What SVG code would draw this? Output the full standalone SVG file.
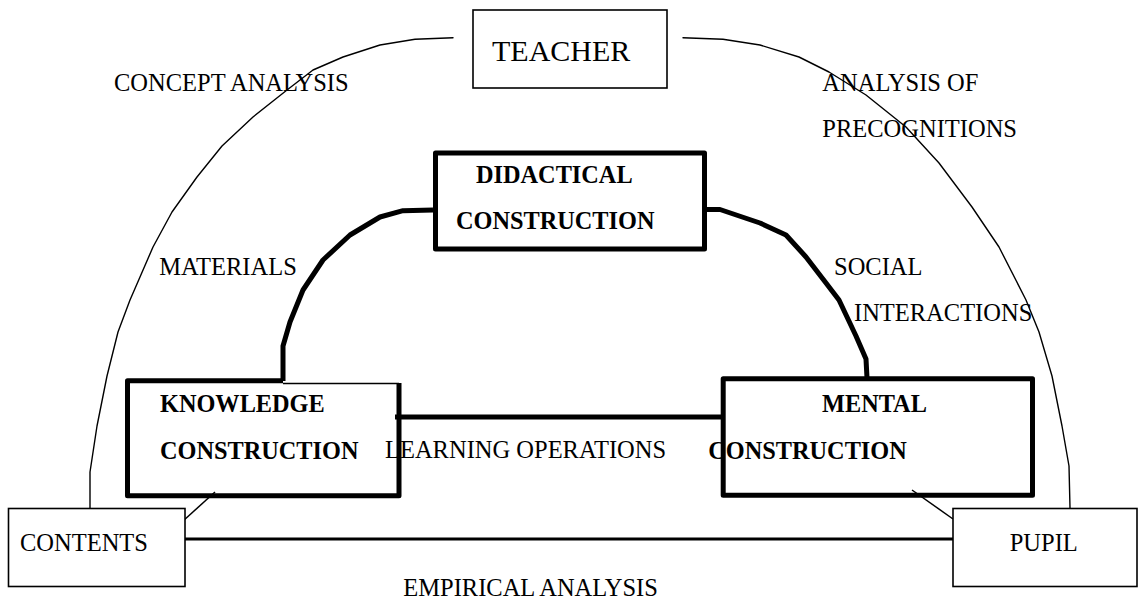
<svg xmlns="http://www.w3.org/2000/svg" width="1139" height="599" viewBox="0 0 1139 599">
<style>
text{font-family:"Liberation Serif","Times New Roman",serif;fill:#000}
.r{font-size:24.5px}
.b{font-size:24.3px;font-weight:bold}
.thin{fill:none;stroke:#000;stroke-width:1.5}
.box{fill:#fff;stroke:#000;stroke-width:1.6}
.tbox{fill:#fff;stroke:#000;stroke-width:5;stroke-linejoin:round}
.arc{fill:none;stroke:#000;stroke-width:1.4;stroke-linejoin:round;stroke-linecap:round}
.thick{fill:none;stroke:#000;stroke-width:5;stroke-linejoin:round}
</style>
<rect width="1139" height="599" fill="#fff"/>
<g id="connectors">
<polyline class="arc" points="453,37.7 415,39.3 380,45 343,57 313,70 287,90 253,117 222,146 197,177 172,212 153,247 140,277 130,300 118,332 107,376 97,426 90,472 90,508"/>
<polyline class="arc" points="683,37.7 723,39.3 760,45 799,57 829,72 866,95 906,127 939,163 972,207 999,247 1026,300 1039,332 1052,376 1062,426 1069,466 1070,508"/>
<polyline class="thick" points="433,210 403,210.7 380,217 350,235 323,260 303,290 290,322 283,346 283,381"/>
<polyline class="thick" points="707,209.5 720,209.5 760,223 786,235 806,257 826,283 839,300 856,336 866,359 867,378"/>
<line class="thick" x1="395" y1="417" x2="722" y2="417" stroke-width="5.5"/>
<line x1="185" y1="539" x2="953" y2="539" stroke="#000" stroke-width="3"/>
<line class="thin" x1="215" y1="492" x2="183" y2="521" stroke-width="1.2"/>
<line class="thin" x1="912" y1="490" x2="953" y2="519" stroke-width="1.2"/>
</g>
<g id="teacher">
<rect class="box" x="473" y="10" width="194" height="78"/>
<text x="492" y="61" style="font-size:30px">TEACHER</text>
</g>
<g id="didactical">
<rect class="tbox" x="435.5" y="153" width="269" height="96"/>
<text class="b" x="476" y="182.7">DIDACTICAL</text>
<text class="b" x="456" y="229.3">CONSTRUCTION</text>
</g>
<g id="knowledge">
<line class="thin" x1="283" y1="383.5" x2="399" y2="383.5"/>
<polyline class="thick" points="283,380.7 127.5,380.7 127.5,495.8 399,495.8 399,383"/>
<text class="b" x="160" y="412.3">KNOWLEDGE</text>
<text class="b" x="160" y="459">CONSTRUCTION</text>
</g>
<g id="mental">
<rect class="tbox" x="723.2" y="378.8" width="309.3" height="116.5" fill="none" style="fill:none"/>
<text class="b" x="822" y="412.3">MENTAL</text>
<text class="b" x="708.3" y="459">CONSTRUCTION</text>
</g>
<g id="contents">
<rect class="box" x="8.5" y="508.5" width="176.5" height="78"/>
<text class="r" x="20" y="550.7">CONTENTS</text>
</g>
<g id="pupil">
<rect class="box" x="953" y="508.5" width="184" height="78"/>
<text class="r" x="1009.7" y="550.7">PUPIL</text>
</g>
<g id="labels">
<text class="r" x="114" y="90.7">CONCEPT ANALYSIS</text>
<text class="r" x="822.3" y="90.7">ANALYSIS OF</text>
<text class="r" x="822.3" y="136.7">PRECOGNITIONS</text>
<text class="r" x="159.3" y="275">MATERIALS</text>
<text class="r" x="834" y="275">SOCIAL</text>
<text class="r" x="854" y="320.7">INTERACTIONS</text>
<text class="r" x="385" y="458.3">LEARNING OPERATIONS</text>
<text class="r" x="403.3" y="595.7">EMPIRICAL ANALYSIS</text>
</g>
</svg>
